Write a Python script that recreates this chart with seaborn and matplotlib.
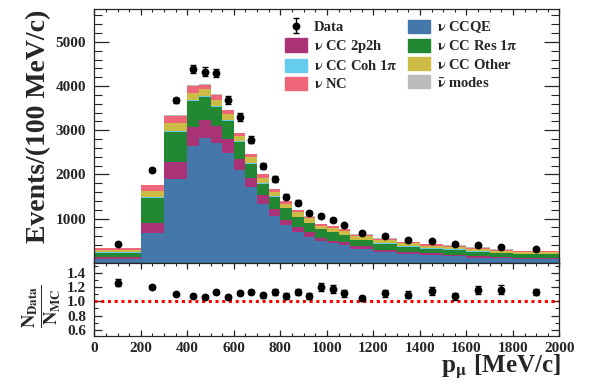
import numpy as np
import pandas as pd
import seaborn as sns
import matplotlib.pyplot as plt
from matplotlib.patches import Patch
from matplotlib.legend_handler import HandlerTuple
from matplotlib.ticker import MultipleLocator

sns.set_style("ticks")
plt.rcParams["font.family"] = ["Liberation Serif", "DejaVu Serif"]
plt.rcParams["font.weight"] = "bold"
plt.rcParams["mathtext.fontset"] = "stix"
plt.rcParams["axes.linewidth"] = 0.9

# bin edges in p_mu [MeV/c]
edges = [0, 200, 300, 400, 450, 500, 550, 600, 650, 700, 750, 800, 850,
         900, 950, 1000, 1050, 1100, 1200, 1300, 1400, 1500, 1600, 1700,
         1800, 2000]

# MC prediction per 100 MeV/c, by interaction mode
ccqe = [85, 665, 1886, 2645, 2825, 2720, 2485, 2090, 1712, 1333, 1053, 856, 689,
        591, 485, 440, 402, 311, 250, 197, 175, 144, 114, 98, 76]
cc2p2h = [40, 228, 394, 430, 400, 370, 326, 265, 213, 190, 167, 121, 129,
          98, 76, 60, 60, 60, 45, 53, 45, 31, 30, 23, 22]
ccres = [105, 575, 690, 585, 525, 435, 400, 380, 320, 265, 268, 255, 217,
         210, 194, 195, 157, 142, 134, 111, 96, 118, 106, 97, 92]
cccoh = [5, 17, 15, 20, 20, 18, 16, 15, 13, 15, 12, 10, 10,
         10, 10, 10, 10, 10, 10, 10, 10, 8, 8, 8, 8]
ccother = [55, 150, 190, 170, 155, 145, 150, 115, 130, 125, 110, 96, 97,
           96, 66, 85, 88, 81, 74, 66, 58, 53, 55, 50, 50]
nc = [35, 115, 150, 150, 110, 110, 75, 65, 65, 70, 53, 55, 50,
      40, 38, 40, 38, 30, 30, 30, 30, 28, 25, 22, 15]
antinu = [8, 15, 20, 20, 20, 15, 15, 15, 12, 10, 10, 8, 10,
          10, 8, 10, 8, 10, 10, 8, 8, 8, 8, 8, 10]

# data per 100 MeV/c and its uncertainty
data = [420, 2110, 3680, 4380, 4330, 4300, 3680, 3300, 2790, 2190, 1895, 1495, 1362,
        1130, 1055, 960, 845, 672, 610, 522, 485, 415, 400, 356, 311]
data_err = [15, 46, 61, 94, 93, 93, 86, 81, 75, 66, 62, 55, 52,
            48, 46, 44, 41, 26, 25, 23, 22, 20, 20, 19, 12]

# data / MC ratio
ratio = [1.26, 1.20, 1.10, 1.08, 1.065, 1.125, 1.06, 1.115, 1.13, 1.085, 1.13, 1.07, 1.13,
         1.075, 1.20, 1.17, 1.11, 1.04, 1.11, 1.09, 1.145, 1.07, 1.16, 1.16, 1.13]

# seaborn stacks the first hue level on top, so list top -> bottom
mode_order = ["anti", "NC", "Other", "Coh", "Res", "2p2h", "CCQE"]
mode_vals = [antinu, nc, ccother, cccoh, ccres, cc2p2h, ccqe]
palette = {"CCQE": "#4477AA", "2p2h": "#AA3377", "Res": "#228833", "Coh": "#66CCEE",
           "Other": "#CCBB44", "NC": "#EE6677", "anti": "#BBBBBB"}

edges_arr = np.array(edges, dtype=float)
centers = (edges_arr[:-1] + edges_arr[1:]) / 2
stack = pd.DataFrame({
    "p": np.tile(centers, len(mode_order)),
    "w": np.concatenate(mode_vals).astype(float),
    "mode": np.repeat(mode_order, len(centers)),
})
ratio = np.array(ratio)
ratio_err = ratio * np.array(data_err) / np.array(data)

fig = plt.figure(figsize=(5.98, 3.85), dpi=100)
ax1 = fig.add_axes([0.1577, 0.3177, 0.7779, 0.6582])
ax2 = fig.add_axes([0.1577, 0.1273, 0.7779, 0.1904])

# top panel: stacked MC + data
sns.histplot(data=stack, x="p", weights="w", hue="mode", hue_order=mode_order,
             palette=palette, bins=edges, multiple="stack", element="step",
             alpha=1, linewidth=0, legend=False, ax=ax1)
eb = ax1.errorbar(centers, data, yerr=data_err, fmt="none", ecolor="black",
                  elinewidth=1, capsize=2, capthick=1, zorder=4)
sns.scatterplot(x=centers, y=data, color="black", s=32, linewidth=0, zorder=5, ax=ax1)
pts = ax1.collections[-1]

ax1.set_xlim(0, 2000)
ax1.set_ylim(0, 5740)
ax1.set_xlabel("")
ax1.set_ylabel("")
ax1.xaxis.set_major_locator(MultipleLocator(200))
ax1.xaxis.set_minor_locator(MultipleLocator(50))
ax1.set_yticks([1000, 2000, 3000, 4000, 5000])
ax1.yaxis.set_minor_locator(MultipleLocator(200))
ax1.tick_params(which="both", direction="in", top=True, right=True, labelbottom=False,
                labelsize=11, pad=6)
ax1.tick_params(axis="y", which="major", length=10.5, width=0.9)
ax1.tick_params(axis="y", which="minor", length=5.5, width=0.8)
ax1.tick_params(axis="x", which="major", length=4, width=0.9)
ax1.tick_params(axis="x", which="minor", length=2, width=0.8)

handles = [(eb, pts)] + [Patch(color=palette[m]) for m in
                         ["2p2h", "Coh", "NC", "CCQE", "Res", "Other", "anti"]]
labels = ["Data",
          r"$\mathrm{\nu}$ CC 2p2h", r"$\mathrm{\nu}$ CC Coh 1$\mathrm{\pi}$", r"$\mathrm{\nu}$ NC",
          r"$\mathrm{\nu}$ CCQE", r"$\mathrm{\nu}$ CC Res 1$\mathrm{\pi}$", r"$\mathrm{\nu}$ CC Other",
          r"$\bar{\mathrm{\nu}}$ modes"]
fig.legend(handles, labels, ncol=2, frameon=False, fontsize=10.5,
           loc="upper left", bbox_to_anchor=(285 / 598, 1 - 19.5 / 385),
           borderpad=0, borderaxespad=0, handlelength=1.5, handleheight=1.0,
           handletextpad=0.5, labelspacing=0.25, columnspacing=0.7,
           handler_map={tuple: HandlerTuple(ndivide=1)})

# bottom panel: ratio
ax2.axhline(1.0, color="red", linestyle=(0, (1, 1.2)), linewidth=2.2, zorder=2)
ax2.errorbar(centers, ratio, yerr=ratio_err, fmt="none", ecolor="black",
             elinewidth=1, capsize=2, capthick=1, zorder=4)
sns.scatterplot(x=centers, y=ratio, color="black", s=32, linewidth=0, zorder=5, ax=ax2)
ax2.set_xlim(0, 2000)
ax2.set_ylim(0.515, 1.54)
ax2.xaxis.set_major_locator(MultipleLocator(200))
ax2.xaxis.set_minor_locator(MultipleLocator(50))
ax2.set_yticks([0.6, 0.8, 1.0, 1.2, 1.4])
ax2.yaxis.set_minor_locator(MultipleLocator(0.1))
ax2.tick_params(which="both", direction="in", top=True, right=True, labelsize=11)
ax2.tick_params(axis="x", which="major", length=4, width=0.9, pad=4)
ax2.tick_params(axis="x", which="minor", length=2, width=0.8)
ax2.tick_params(axis="y", which="major", length=6, width=0.9, pad=6)
ax2.tick_params(axis="y", which="minor", length=3, width=0.8)
ax2.set_xlabel("")
ax2.set_ylabel("")

fig.text(38.5 / 598, 1 - 126.5 / 385, "Events/(100 MeV/c)", rotation=90,
         ha="center", va="center", fontsize=20, fontweight="bold")
fig.text(42 / 598, 1 - 306 / 385, r"$\mathbf{\frac{N_{Data}}{N_{MC}}}$", rotation=90,
         ha="center", va="center", fontsize=19)
fig.text(561 / 598, 1 - 372.5 / 385, r"p$_{\mathrm{\mu}}$ [MeV/c]", ha="right",
         va="baseline", fontsize=18, fontweight="bold")

fig.savefig("out.png", dpi=100)
